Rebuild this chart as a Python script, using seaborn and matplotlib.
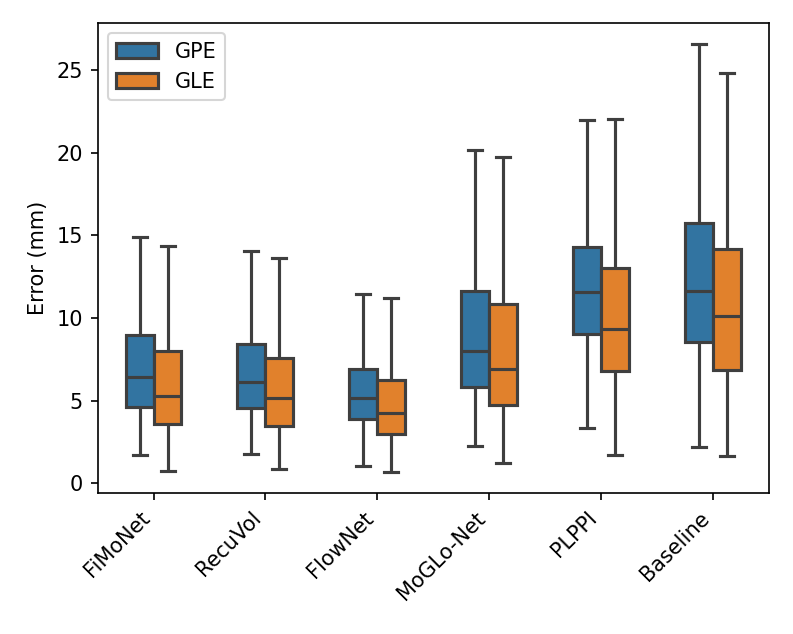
import pandas as pd
import matplotlib
matplotlib.use("Agg")
import matplotlib.pyplot as plt
import seaborn as sns

# methods on the x axis
methods = ["FiMoNet", "RecuVol", "FlowNet", "MoGLo-Net", "PLPPI", "Baseline"]

# box statistics (mm): whisker low, q1, median, q3, whisker high
gpe_low = [1.74, 1.78, 1.07, 2.26, 3.35, 2.18]
gpe_q1 = [4.63, 4.55, 3.88, 5.84, 9.01, 8.52]
gpe_med = [6.44, 6.10, 5.17, 8.02, 11.58, 11.66]
gpe_q3 = [8.97, 8.40, 6.91, 11.66, 14.28, 15.78]
gpe_high = [14.90, 14.04, 11.47, 20.18, 21.98, 26.57]

gle_low = [0.75, 0.87, 0.69, 1.21, 1.74, 1.68]
gle_q1 = [3.58, 3.47, 2.97, 4.73, 6.81, 6.85]
gle_med = [5.29, 5.17, 4.26, 6.93, 9.35, 10.10]
gle_q3 = [8.00, 7.58, 6.26, 10.83, 13.01, 14.18]
gle_high = [14.36, 13.64, 11.21, 19.76, 22.04, 24.81]


def to_rows(metric, low, q1, med, q3, high):
    """ five values per box: with whis=(0,100) they give back the same stats """
    rows = []
    for i, m in enumerate(methods):
        for v in (low[i], q1[i], med[i], q3[i], high[i]):
            rows.append({"method": m, "metric": metric, "error": v})
    return rows


df = pd.DataFrame(
    to_rows("GPE", gpe_low, gpe_q1, gpe_med, gpe_q3, gpe_high)
    + to_rows("GLE", gle_low, gle_q1, gle_med, gle_q3, gle_high)
)

fig, ax = plt.subplots(figsize=(793 / 150, 634 / 150), dpi=150)
fig.subplots_adjust(left=0.123, right=0.970, top=0.964, bottom=0.222)

g = sns.boxplot(
    data=df, x="method", y="error", hue="metric",
    order=methods, hue_order=["GPE", "GLE"],
    palette=["#1f77b4", "#ff7f0e"], saturation=0.75,
    width=0.5, whis=(0, 100), showfliers=False,
    linecolor="#3f3f3f", linewidth=1.5, ax=ax,
)

g.set(xlabel="", ylabel="Error (mm)")
plt.setp(ax.get_xticklabels(), rotation=45, ha="right")
ax.legend(loc="upper left")

fig.savefig("out.png", dpi=150)
